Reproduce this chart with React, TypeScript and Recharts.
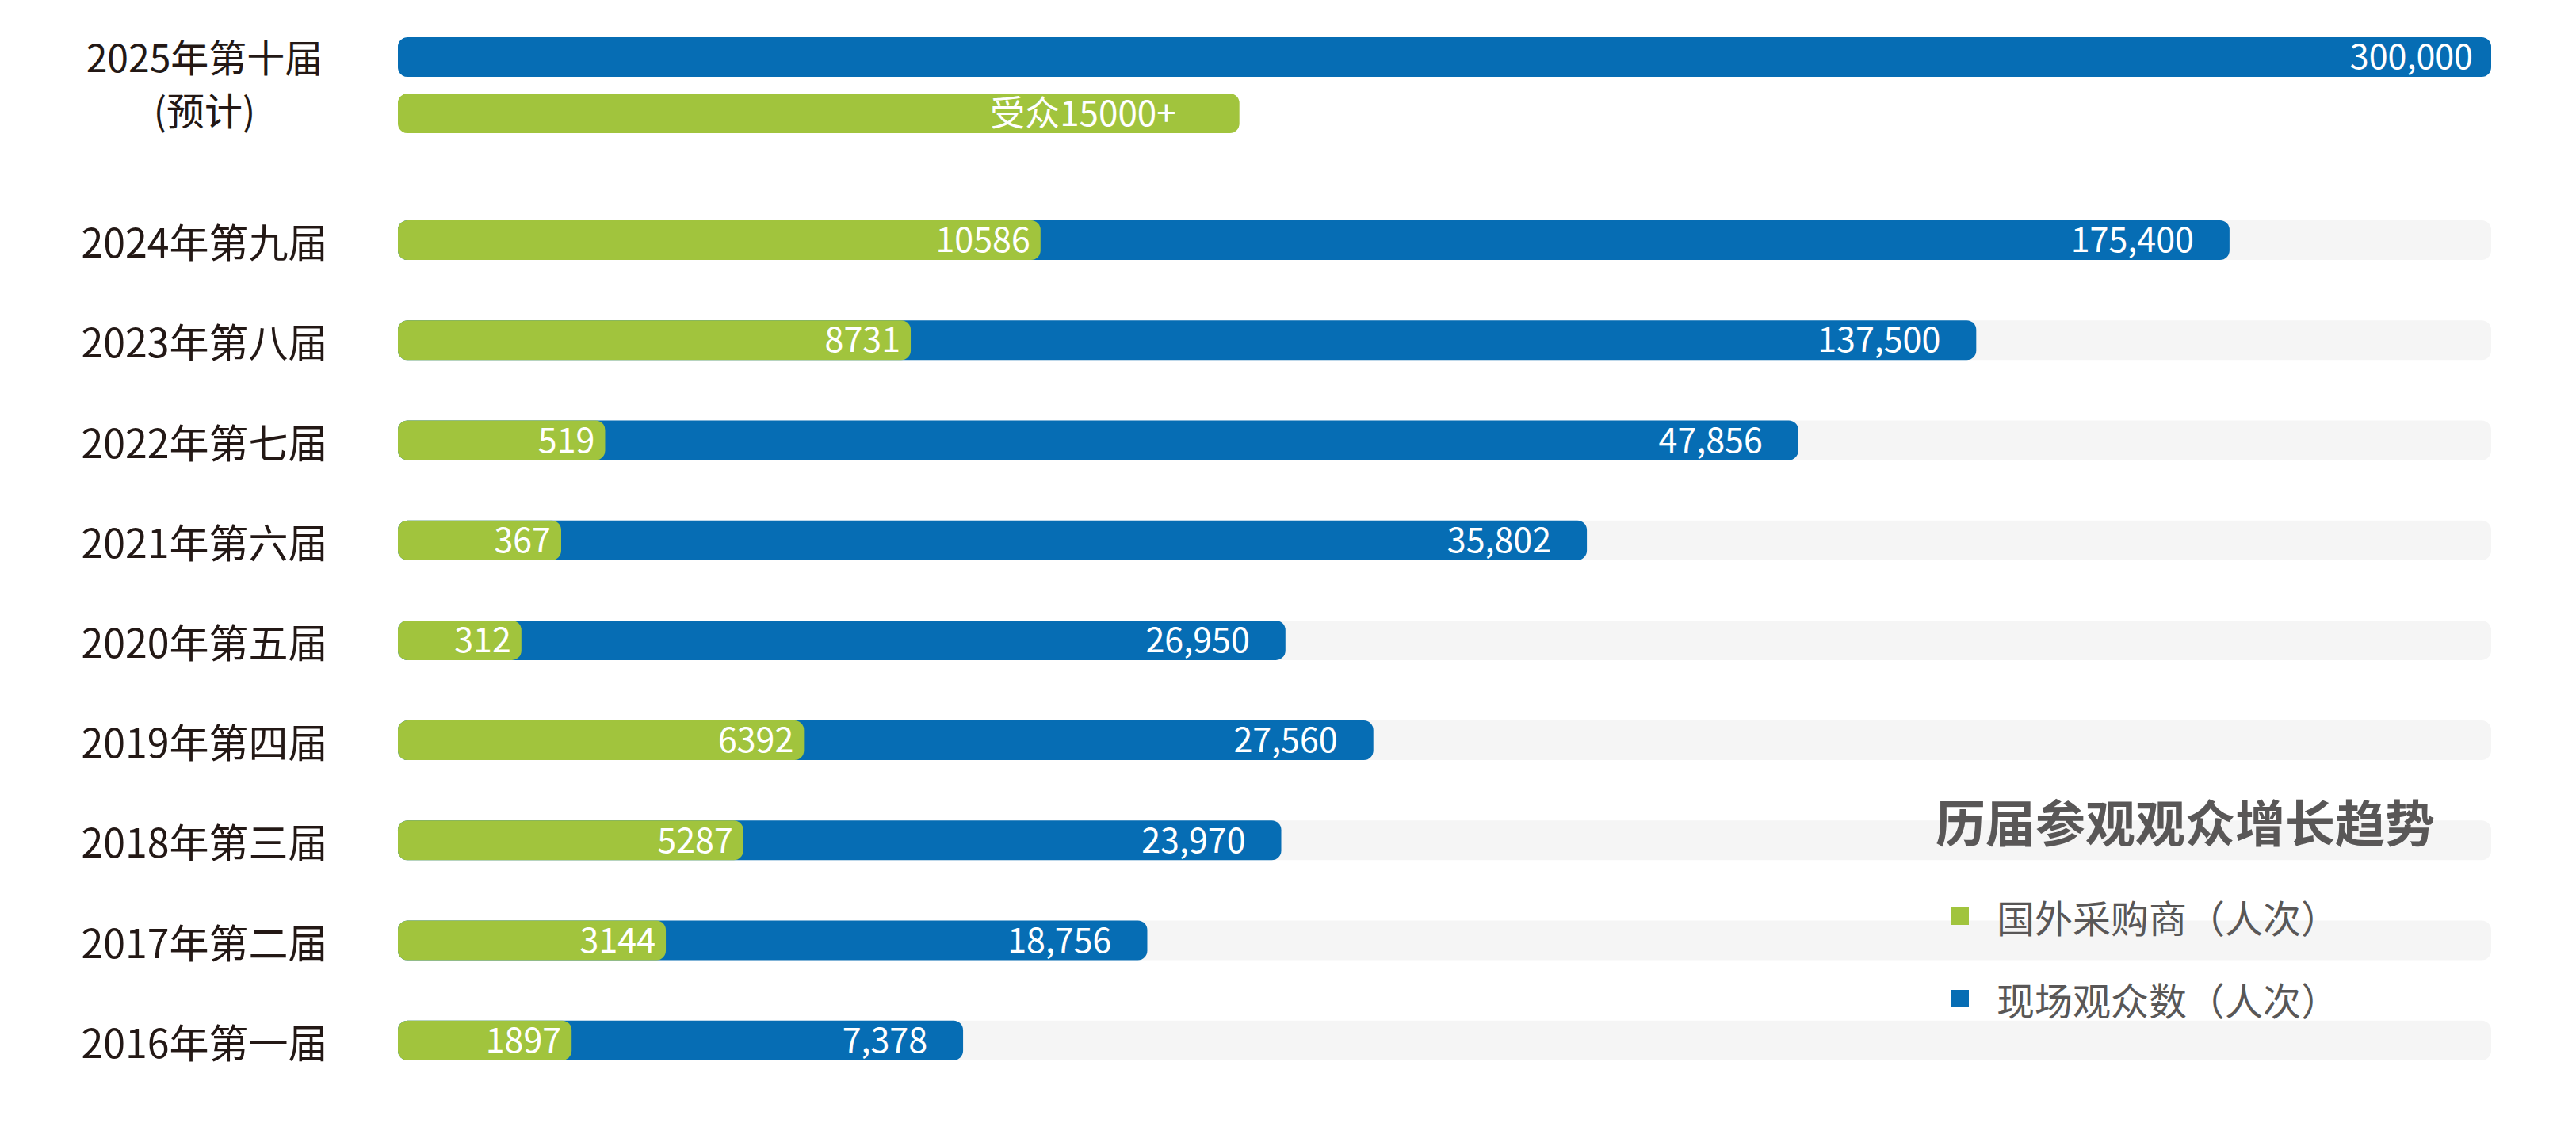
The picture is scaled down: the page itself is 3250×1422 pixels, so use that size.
import { BarChart, Bar, XAxis, YAxis, LabelList, Legend } from "recharts";

// 2016–2024 editions, top to bottom
const editions = [
  "2024年第九届",
  "2023年第八届",
  "2022年第七届",
  "2021年第六届",
  "2020年第五届",
  "2019年第四届",
  "2018年第三届",
  "2017年第二届",
  "2016年第一届",
];
const visitorCounts = [175400, 137500, 47856, 35802, 26950, 27560, 23970, 18756, 7378];
const buyerCounts = [10586, 8731, 519, 367, 312, 6392, 5287, 3144, 1897];
// bar lengths as drawn in the original graphic (% of the track) - not to scale with the counts
const visitorBarPct = [87.5, 75.4, 66.9, 56.8, 42.4, 46.6, 42.2, 35.8, 27.0];
const buyerBarPct = [30.7, 24.5, 9.9, 7.8, 5.9, 19.4, 16.5, 12.8, 8.3];

// 2025 forecast row
const forecastEdition = "2025年第十届";
const forecastNote = "(预计)";
const forecastVisitors = 300000;
const forecastVisitorPct = 100;
const forecastBuyerPct = 40.2;
const forecastBuyerText = "受众15000+";

const SERIES_BUYERS = "国外采购商（人次）";
const SERIES_VISITORS = "现场观众数（人次）";
const legendOrder = [SERIES_BUYERS, SERIES_VISITORS];
const TITLE = "历届参观观众增长趋势";

const BLUE = "#066db4";
const GREEN = "#a1c43d";
const TRACK = "#f5f5f5";
const LABEL_COLOR = "#231815";
const LEGEND_COLOR = "#595757";
const FONT = '"Noto Sans CJK SC", "Noto Sans", sans-serif';

const LABEL_X = 258;

const data = editions.map((name, i) => ({
  name,
  visitors: visitorCounts[i],
  buyers: buyerCounts[i],
  visitorPct: visitorBarPct[i],
  buyerPct: buyerBarPct[i],
}));

const forecastData = [
  {
    name: forecastEdition,
    visitors: forecastVisitors,
    visitorPct: forecastVisitorPct,
    buyerPct: forecastBuyerPct,
    buyerText: forecastBuyerText,
  },
];

const fmt = (v: any) => Number(v).toLocaleString("en-US");

const EditionTick = ({ y, payload }: any) => (
  <text
    x={LABEL_X}
    y={y}
    textAnchor='middle'
    dominantBaseline='central'
    fontSize={50}
    fill={LABEL_COLOR}
  >
    {payload.value}
  </text>
);

const ForecastTick = ({ y, payload }: any) => (
  <g>
    <text
      x={LABEL_X}
      y={y - 38}
      textAnchor='middle'
      dominantBaseline='central'
      fontSize={48}
      fill={LABEL_COLOR}
    >
      {payload.value}
    </text>
    <text
      x={LABEL_X}
      y={y + 29}
      textAnchor='middle'
      dominantBaseline='central'
      fontSize={48}
      fill={LABEL_COLOR}
    >
      {forecastNote}
    </text>
  </g>
);

const LegendBox = ({ payload }: any) => {
  const items = [...(payload || [])].sort(
    (a: any, b: any) => legendOrder.indexOf(a.value) - legendOrder.indexOf(b.value)
  );
  return (
    <div style={{ color: LEGEND_COLOR, textAlign: "left", fontFamily: FONT }}>
      <div
        style={{
          fontSize: 63,
          fontWeight: 700,
          lineHeight: "80px",
          whiteSpace: "nowrap",
        }}
      >
        {TITLE}
      </div>
      {items.map((p: any, i: number) => (
        <div
          key={p.value}
          style={{
            display: "flex",
            alignItems: "center",
            height: 80,
            marginTop: i === 0 ? 41 : 24,
            paddingLeft: 19,
          }}
        >
          <span
            style={{
              display: "inline-block",
              width: 23,
              height: 22,
              background: p.color,
              marginRight: 35,
            }}
          />
          <span style={{ fontSize: 48, whiteSpace: "nowrap" }}>{p.value}</span>
        </div>
      ))}
    </div>
  );
};

export default function App() {
  return (
    <div
      style={{
        position: "absolute",
        left: 0,
        top: 0,
        width: 3250,
        height: 1422,
        background: "#fff",
        fontFamily: FONT,
        overflow: "hidden",
      }}
    >
      <div style={{ position: "absolute", left: 0, top: 0 }}>
        <BarChart
          layout='vertical'
          width={3250}
          height={215}
          data={forecastData}
          margin={{ top: 0, right: 107, bottom: 0, left: 0 }}
          barSize={50}
          barGap={21}
        >
          <XAxis type='number' domain={[0, 100]} hide />
          <YAxis
            type='category'
            dataKey='name'
            width={502}
            axisLine={false}
            tickLine={false}
            tick={<ForecastTick />}
          />
          <Bar
            dataKey='visitorPct'
            fill={BLUE}
            radius={12}
            isAnimationActive={false}
          >
            <LabelList
              dataKey='visitors'
              position='insideRight'
              offset={23}
              fill='#fff'
              fontSize={43}
              formatter={fmt}
            />
          </Bar>
          <Bar
            dataKey='buyerPct'
            fill={GREEN}
            radius={12}
            isAnimationActive={false}
          >
            <LabelList
              dataKey='buyerText'
              position='insideRight'
              offset={80}
              fill='#fff'
              fontSize={44}
            />
          </Bar>
        </BarChart>
      </div>

      <div style={{ position: "absolute", left: 0, top: 240 }}>
        <BarChart
          layout='vertical'
          width={3250}
          height={1136}
          data={data}
          margin={{ top: 0, right: 107, bottom: 0, left: 0 }}
          barSize={50}
          barGap={-50}
        >
          <XAxis type='number' domain={[0, 100]} hide />
          <YAxis
            type='category'
            dataKey='name'
            width={502}
            axisLine={false}
            tickLine={false}
            interval={0}
            tick={<EditionTick />}
          />
          <Bar
            dataKey='visitorPct'
            name={SERIES_VISITORS}
            fill={BLUE}
            radius={12}
            background={{ fill: TRACK, radius: 12 }}
            isAnimationActive={false}
          >
            <LabelList
              dataKey='visitors'
              position='insideRight'
              offset={45}
              fill='#fff'
              fontSize={43}
              formatter={fmt}
            />
          </Bar>
          <Bar
            dataKey='buyerPct'
            name={SERIES_BUYERS}
            fill={GREEN}
            radius={12}
            isAnimationActive={false}
          >
            <LabelList
              dataKey='buyers'
              position='insideRight'
              offset={13}
              fill='#fff'
              fontSize={43}
            />
          </Bar>
          <Legend
            layout='vertical'
            align='center'
            verticalAlign='middle'
            content={<LegendBox />}
            wrapperStyle={{ left: 2442, top: 755, width: 760 }}
          />
        </BarChart>
      </div>
    </div>
  );
}
